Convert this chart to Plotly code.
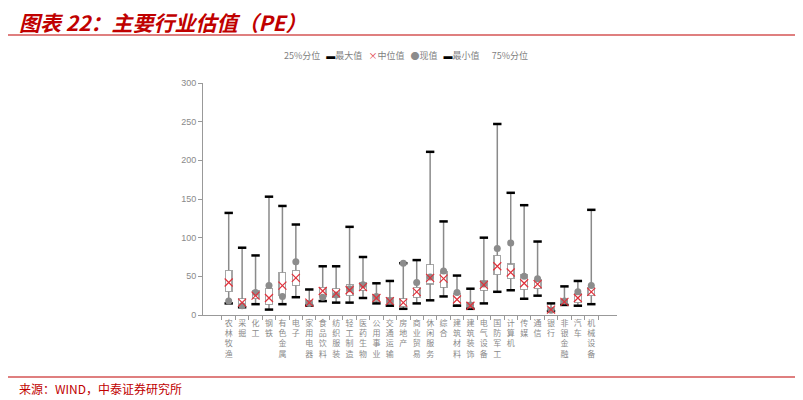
import plotly.graph_objects as go

categories = ["农林牧渔", "采掘", "化工", "钢铁", "有色金属", "电子", "家用电器", "食品饮料",
              "纺织服装", "轻工制造", "医药生物", "公用事业", "交通运输", "房地产", "商业贸易",
              "休闲服务", "综合", "建筑材料", "建筑装饰", "电气设备", "国防军工", "计算机",
              "传媒", "通信", "银行", "非银金融", "汽车", "机械设备"]
max_vals = [132, 87, 77, 153, 141, 117, 33, 63, 63, 114, 75, 41, 44, 67, 71, 211, 121, 51, 34, 100, 247, 158, 142, 95, 15, 37, 44, 136]
q3_vals = [58, 21, 31, 34, 55, 58, 19, 36, 34, 39, 42, 26, 22, 21, 36, 65, 56, 28, 16, 44, 77, 66, 52, 46, 9, 20, 27, 36]
median_vals = [42, 16, 25, 22, 38, 48, 16, 31, 28, 32, 36, 22, 18, 16, 30, 48, 47, 20, 12, 39, 63, 55, 41, 40, 7, 17, 22, 30]
q1_vals = [30, 12, 21, 14, 26, 38, 13, 24, 23, 25, 32, 18, 13, 11, 23, 40, 36, 14, 9, 32, 52, 47, 33, 34, 6, 14, 16, 25]
current_vals = [18, 12, 29, 38, 24, 69, 15, 23, 26, 34, 39, 24, 18, 67, 42, 49, 57, 29, 13, 40, 86, 93, 50, 47, 6, 18, 30, 38]
min_vals = [15, 10, 14, 7, 14, 23, 12, 18, 16, 16, 22, 15, 12, 8, 15, 19, 24, 12, 8, 15, 30, 32, 21, 25, 5, 13, 12, 14]
y_ticks = [0, 50, 100, 150, 200, 250, 300]

tick_text = ["<br>".join(list(c)) for c in categories]

# whisker segments (min->Q1 and Q3->max)
wx, wy = [], []
for c, lo, a, b, hi in zip(categories, min_vals, q1_vals, q3_vals, max_vals):
    wx += [c, c, None, c, c, None]
    wy += [lo, a, None, b, hi, None]

fig = go.Figure()
fig.add_trace(go.Bar(x=categories, y=q1_vals, marker=dict(color="rgba(0,0,0,0)", line=dict(width=0)),
                     width=0.5, showlegend=False, hoverinfo="skip"))
fig.add_trace(go.Bar(x=categories, y=[b - a for a, b in zip(q1_vals, q3_vals)],
                     marker=dict(color="white", line=dict(color="#a6a6a6", width=1.3)),
                     width=0.5, showlegend=False))
fig.add_trace(go.Scatter(x=wx, y=wy, mode="lines", line=dict(color="#8a8a8a", width=1.5),
                         showlegend=False, hoverinfo="skip"))
fig.add_trace(go.Scatter(x=categories, y=max_vals, mode="markers",
                         marker=dict(symbol="line-ew", size=6, line=dict(color="black", width=2.5)),
                         showlegend=False))
fig.add_trace(go.Scatter(x=categories, y=min_vals, mode="markers",
                         marker=dict(symbol="line-ew", size=6, line=dict(color="black", width=2.5)),
                         showlegend=False))
fig.add_trace(go.Scatter(x=categories, y=current_vals, mode="markers",
                         marker=dict(symbol="circle", size=7, color="#8c8c8c"),
                         showlegend=False))
fig.add_trace(go.Scatter(x=categories, y=median_vals, mode="markers",
                         marker=dict(symbol="x-thin", size=8, line=dict(color="#e0303a", width=1.2)),
                         showlegend=False))

red = "#c00000"
legend_text = ("25%分位 &nbsp; <span style='color:black'>▬</span>最大值 &nbsp; "
               "<span style='color:#e0303a'>×</span>中位值 &nbsp; "
               "<span style='color:#8c8c8c'>●</span>现值 &nbsp; "
               "<span style='color:black'>▬</span>最小值 &nbsp; &nbsp; &nbsp;75%分位")

PW, PH = 414, 232  # plot area size in px

fig.update_layout(
    width=795, height=392,
    margin=dict(l=195, r=186, t=75, b=85),
    paper_bgcolor="white", plot_bgcolor="white",
    barmode="stack", bargap=0.5,
    showlegend=False,
    font=dict(family="Noto Sans CJK SC", color="#7f7f7f", size=9),
    xaxis=dict(tickmode="array", tickvals=categories, ticktext=tick_text,
               tickson="boundaries", ticks="outside", ticklen=4, tickcolor="#999999",
               showline=True, linecolor="#999999", linewidth=1, showgrid=False,
               tickangle=0, tickfont=dict(size=8, color="#8a8a8a")),
    yaxis=dict(range=[0, 300], tickvals=y_ticks, ticks="outside", ticklen=4, tickcolor="#999999",
               showline=True, linecolor="#999999", linewidth=1, showgrid=False, zeroline=False,
               tickfont=dict(size=9, color="#8a8a8a", family="Liberation Sans")),
    shapes=[
        dict(type="line", xref="paper", yref="paper", x0=-200/PW, x1=600/PW,
             y0=1 + (83 - 6) / PH, y1=1 + (83 - 6) / PH, line=dict(color=red, width=2.5)),
        dict(type="line", xref="paper", yref="paper", x0=-200/PW, x1=600/PW,
             y0=1 + (83 - 35) / PH, y1=1 + (83 - 35) / PH, line=dict(color=red, width=1.2)),
        dict(type="line", xref="paper", yref="paper", x0=-200/PW, x1=600/PW,
             y0=-(377 - 315) / PH, y1=-(377 - 315) / PH, line=dict(color=red, width=1.2)),
    ],
    annotations=[
        dict(text="<b><i>图表 22：主要行业估值（PE）</i></b>", xref="paper", yref="paper",
             x=-186/PW, y=1 + (83 - 22) / PH, xanchor="left", yanchor="middle", showarrow=False,
             font=dict(size=21, color=red, family="Noto Sans CJK SC")),
        dict(text=legend_text, xref="paper", yref="paper",
             x=(406 - 203) / PW, y=1 + (83 - 55) / PH, xanchor="center", yanchor="middle",
             showarrow=False, font=dict(size=9, color="#7f7f7f")),
        dict(text="来源：WIND，中泰证券研究所", xref="paper", yref="paper",
             x=-186/PW, y=-(388 - 315) / PH, xanchor="left", yanchor="middle", showarrow=False,
             font=dict(size=12, color=red, family="Noto Sans CJK SC")),
    ],
)

fig.write_html("out.html")
